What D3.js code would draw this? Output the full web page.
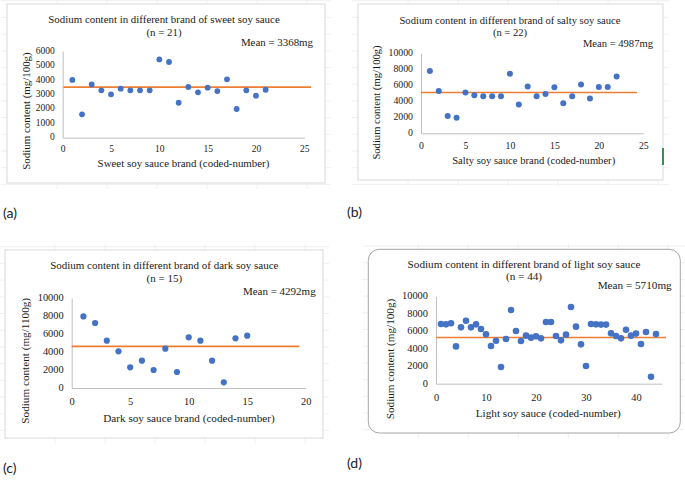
<!DOCTYPE html>
<html><head><meta charset="utf-8">
<script src="https://cdn.jsdelivr.net/npm/d3@7"></script>
<style>body{margin:0;background:#fff} svg{display:block}</style>
</head><body>
<svg id="chart" width="685" height="480"></svg>
<script>
// ---- data ----
const sweetValues = [4000,1615,3690,3280,3000,3390,3280,3280,3280,5420,5240,2420,3510,3140,3460,3230,4040,1985,3280,2910,3320];
const saltyValues = [7800,5300,2150,1950,5100,4750,4620,4620,4620,7450,3600,5850,4620,4900,5750,3750,4620,6100,4350,5800,5800,7100];
const darkValues  = [7950,7220,5260,4070,2300,3040,2000,4370,1780,5630,5260,3040,630,5520,5810];
const lightValues = [6830,6790,6910,4270,6450,7210,6450,6790,6260,5650,4310,4920,1910,5110,8430,6030,4890,5500,5270,5420,5190,7060,7060,5460,4960,5610,8780,6530,4500,2020,6830,6790,6760,6760,5760,5460,5190,6180,5500,5730,4540,5920,800,5690];

const titles = ["Sodium content in different brand of sweet soy sauce","Sodium content in different brand of salty soy sauce","Sodium content in different brand of dark soy sauce","Sodium content in different brand of light soy sauce"];
const nLabels = ["(n = 21)","(n = 22)","(n = 15)","(n = 44)"];
const meanLabels = ["Mean = 3368mg","Mean = 4987mg","Mean = 4292mg","Mean = 5710mg"];
const meanLineValues = [3500,5100,4630,5280];
const meanLineEnds = [[0.07,25.7],[0,24.3],[0,19.46],[0,46]];
const xTitles = ["Sweet soy sauce brand (coded-number)","Salty soy sauce brand (coded-number)","Dark soy sauce brand (coded-number)","Light soy sauce (coded-number)"];
const yTitles = ["Sodium content (mg/100g)","Sodium content (mg/100g)","Sodium content (mg/1100g)","Sodium content (mg/100g)"];
const panelLetters = ["(a)","(b)","(c)","(d)"];
const xTicksA = [0,5,10,15,20,25], xTicksB = [0,5,10,15,20,25], xTicksC = [0,5,10,15,20], xTicksD = [0,10,20,30,40];
const yTicksA = [0,1000,2000,3000,4000,5000,6000];
const yTicks10k = [0,2000,4000,6000,8000,10000];
const xDomains = [[0,25],[0,25],[0,20],[0,45.2]];
const yDomains = [[0,6000],[0,10000],[0,10000],[0,10000]];

// ---- layout ----
const panels = [
  {vals:sweetValues, xt:xTicksA, yt:yTicksA,
   box:{x:7,y:4,w:318,h:179,rx:0}, px:[62.7,304.3], py:[137.7,51],
   tx:164, t1:20.5, t2:33, mx:313, my:43.5, ytx:27.5, yty:111, xtx:183.5, xty:164.5,
   fT:10.9, fA:10.9, fK:9.5, xOff:12, r:2.9},
  {vals:saltyValues, xt:xTicksB, yt:yTicks10k,
   box:{x:358,y:4,w:305,h:176,rx:0}, px:[421,643.3], py:[133.3,53.3],
   tx:510, t1:21.5, t2:33.3, mx:653, my:45, ytx:378, yty:102.5, xtx:533.7, xty:162,
   fT:10.6, fA:10.6, fK:9.8, xOff:13.4, r:3.0},
  {vals:darkValues, xt:xTicksC, yt:yTicks10k,
   box:{x:5,y:250,w:318,h:188,rx:0}, px:[71.7,305.7], py:[388,298],
   tx:164.3, t1:266.7, t2:279.3, mx:315.7, my:292.7, ytx:26.7, yty:360.8, xtx:189, xty:419,
   fT:11, fA:11.2, fK:10.4, xOff:14.5, r:3.1},
  {vals:lightValues, xt:xTicksD, yt:yTicks10k,
   box:{x:368.3,y:249.3,w:312,h:183.7,rx:11}, px:[436,662], py:[383.7,296.3],
   tx:524, t1:265, t2:277.3, mx:671.7, my:286, ytx:391.7, yty:359, xtx:548.3, xty:414,
   fT:11.2, fA:11.2, fK:10.4, xOff:14.5, r:3.3}
];
const letterPos = [[3,214],[347,213],[3,469],[347,464]];

const svg = d3.select("#chart");
const SERIF = "'Liberation Serif','Times New Roman',serif";
const BLUE = "#4472C4", ORANGE = "#ED7D31", AXIS = "#bfbfbf";

panels.forEach((p, i) => {
  const b = p.box;
  // faint spreadsheet grid just around the pasted chart
  const cid = "clip" + i;
  svg.append("clipPath").attr("id", cid).append("rect")
    .attr("x", b.x - 6).attr("y", b.y - 6).attr("width", b.w + 12).attr("height", b.h + 12);
  const gg = svg.append("g").attr("clip-path", `url(#${cid})`);
  for (let yy = b.y - 20; yy < b.y + b.h + 20; yy += 16.7)
    gg.append("line").attr("x1", b.x - 6).attr("x2", b.x + b.w + 6).attr("y1", yy).attr("y2", yy)
      .attr("stroke", "#ececec").attr("stroke-width", 0.8);
  for (let xx = b.x + 50; xx < b.x + b.w + 6; xx += 50)
    gg.append("line").attr("y1", b.y - 6).attr("y2", b.y + b.h + 6).attr("x1", xx).attr("x2", xx)
      .attr("stroke", "#ececec").attr("stroke-width", 0.8);

  svg.append("rect").attr("x", b.x).attr("y", b.y).attr("width", b.w).attr("height", b.h)
    .attr("rx", b.rx).attr("fill", "#fff")
    .attr("stroke", b.rx ? "#a6a6a6" : "#d9d9d9").attr("stroke-width", 1);

  const x = d3.scaleLinear().domain(xDomains[i]).range(p.px);
  const y = d3.scaleLinear().domain(yDomains[i]).range(p.py);

  // axes
  const gx = svg.append("g").attr("transform", `translate(0,${p.py[0]})`)
    .call(d3.axisBottom(x).tickValues(p.xt).tickSize(0).tickPadding(0));
  gx.select(".domain").attr("stroke", AXIS).attr("stroke-width", 1);
  gx.selectAll("text").attr("dy", null).attr("y", p.xOff).attr("dominant-baseline", "middle")
    .attr("font-family", SERIF).attr("font-size", p.fK).attr("fill", "#1a1a1a");

  const gy = svg.append("g").attr("transform", `translate(${p.px[0]},0)`)
    .call(d3.axisLeft(y).tickValues(p.yt).tickSize(0).tickPadding(8).tickFormat(d3.format("d")));
  gy.select(".domain").attr("stroke", AXIS).attr("stroke-width", 1);
  gy.selectAll("text").attr("dy", null).attr("dominant-baseline", "middle")
    .attr("font-family", SERIF).attr("font-size", p.fK).attr("fill", "#1a1a1a");

  // mean line
  svg.append("line")
    .attr("x1", x(meanLineEnds[i][0])).attr("x2", x(meanLineEnds[i][1]))
    .attr("y1", y(meanLineValues[i])).attr("y2", y(meanLineValues[i]))
    .attr("stroke", ORANGE).attr("stroke-width", 1.6);

  // points
  svg.append("g").selectAll("circle").data(p.vals).join("circle")
    .attr("cx", (d, k) => x(k + 1)).attr("cy", d => y(d)).attr("r", p.r)
    .attr("fill", BLUE);

  // texts
  const txt = (s, tx, ty, fs, anchor, rot) => {
    const t = svg.append("text").text(s).attr("font-family", SERIF).attr("font-size", fs)
      .attr("fill", "#1a1a1a").attr("text-anchor", anchor || "middle").attr("dominant-baseline", "middle");
    if (rot) t.attr("transform", `translate(${tx},${ty}) rotate(-90)`);
    else t.attr("x", tx).attr("y", ty);
    return t;
  };
  txt(titles[i], p.tx, p.t1, p.fT);
  txt(nLabels[i], p.tx, p.t2, p.fT);
  txt(meanLabels[i], p.mx, p.my, p.fT, "end");
  txt(xTitles[i], p.xtx, p.xty, p.fA);
  txt(yTitles[i], p.ytx, p.yty, p.fA, "middle", true);

  svg.append("text").text(panelLetters[i]).attr("x", letterPos[i][0]).attr("y", letterPos[i][1])
    .attr("dominant-baseline", "middle").attr("font-family", "Lato, 'Open Sans', sans-serif")
    .attr("font-size", 14).attr("fill", "#222");
});

// small green selection handle at right of panel (b)
svg.append("rect").attr("x", 662).attr("y", 148).attr("width", 2).attr("height", 17).attr("fill", "#3a8a5a");
</script>
</body></html>
